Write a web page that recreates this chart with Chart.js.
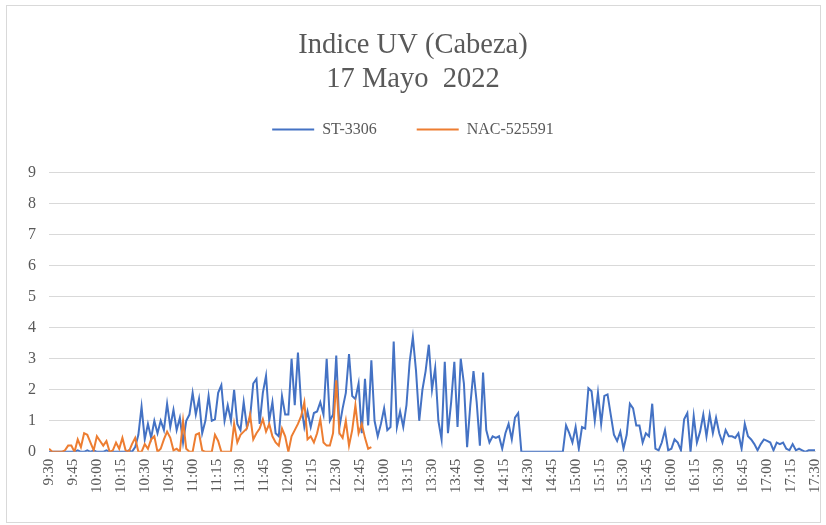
<!DOCTYPE html>
<html>
<head>
<meta charset="utf-8">
<title>Indice UV (Cabeza)</title>
<script src="https://cdn.jsdelivr.net/npm/chart.js"></script>
<style>
  html, body { margin: 0; padding: 0; background: #fff; }
  #wrap { width: 826px; height: 525px; }
</style>
</head>
<body>
<div id="wrap"><canvas id="graficoUV"></canvas></div>
<script>
// Lecturas cada 2 minutos desde las 9:30 (x = minutos desde las 9:30)
const paso = 2;

const etiquetasHora = [
    '9:30', '9:45', '10:00', '10:15', '10:30', '10:45', '11:00', '11:15', '11:30',
    '11:45', '12:00', '12:15', '12:30', '12:45', '13:00', '13:15', '13:30', '13:45',
    '14:00', '14:15', '14:30', '14:45', '15:00', '15:15', '15:30', '15:45', '16:00',
    '16:15', '16:30', '16:45', '17:00', '17:15', '17:30'
];

const nombres = ['ST-3306', 'NAC-525591'];

const st3306 = [
    0, 0, 0, 0, 0, 0, 0, 0, 0, 0.05, 0, 0, 0.05, 0, 0.05, 0, 0, 0, 0.05, 0, 0, 0, 0, 0, 0, 0.05, 0, 0.15,
    0.55, 1.45, 0.4, 0.9, 0.45, 1.0, 0.6, 1.0, 0.7, 1.55, 0.8, 1.35, 0.7, 1.1, 0.3, 1.0, 1.2, 1.9, 1.2, 1.7,
    0.6, 1.0, 1.8, 1.0, 1.05, 1.9, 2.15, 1.0, 1.5, 1.0, 2.0, 0.9, 0.7, 1.6, 0.8, 1.1, 2.2, 2.35, 0.9, 1.9,
    2.45, 1.0, 1.6, 0.6, 0.5, 1.8, 1.2, 1.2, 3.0, 1.5, 3.2, 1.5, 0.8, 1.3, 0.8, 1.25, 1.3, 1.6, 1.2, 3.0,
    1.0, 1.2, 3.1, 0.8, 1.4, 1.9, 3.15, 1.8, 1.7, 2.2, 0.6, 2.35, 0.85, 2.95, 1.0, 0.5, 0.9, 1.4, 0.7, 0.8,
    3.55, 0.8, 1.3, 0.8, 1.5, 2.9, 3.7, 2.6, 1.0, 2.0, 2.6, 3.45, 2.0, 2.7, 1.0, 0.4, 2.9, 0.6, 1.6, 2.9,
    0.8, 3.0, 2.2, 0.15, 1.5, 2.6, 1.6, 0.2, 2.55, 0.7, 0.3, 0.5, 0.45, 0.5, 0.1, 0.6, 0.9, 0.4, 1.1, 1.25,
    0, 0, 0, 0, 0, 0, 0, 0, 0, 0, 0, 0, 0, 0,
    0.85, 0.6, 0.3, 0.8, 0.1, 0.8, 0.75, 2.05, 1.95, 1.0, 1.9, 0.9, 1.8, 1.85, 1.2, 0.55, 0.35, 0.65, 0.1, 0.55,
    1.55, 1.4, 0.85, 0.85, 0.3, 0.6, 0.5, 1.55, 0.1, 0.05, 0.3, 0.7, 0.05, 0.1, 0.4, 0.3, 0.05, 1.05, 1.25, 0,
    1.15, 0.3, 0.65, 1.2, 0.5, 1.2, 0.6, 1.1, 0.6, 0.3, 0.7, 0.5, 0.5, 0.45, 0.6, 0.1, 0.9, 0.5, 0.4, 0.25,
    0.05, 0.25, 0.4, 0.35, 0.3, 0.05, 0.3, 0.25, 0.3, 0.1, 0.05, 0.25, 0.05, 0.1, 0.05, 0, 0.05, 0.05, 0.05
];

const nac525591 = [
    0.1, 0, 0, 0, 0, 0.05, 0.2, 0.2, 0, 0.4, 0.15, 0.6, 0.55, 0.3, 0.05, 0.5, 0.35, 0.2, 0.35, 0,
    0.05, 0.3, 0.1, 0.45, 0.05, 0, 0.25, 0.45, 0, 0, 0.25, 0.1, 0.4, 0.5, 0, 0.1, 0.4, 0.65, 0.45, 0.05,
    0.1, 0, 1.0, 0.1, 0, 0, 0.55, 0.6, 0.05, 0, 0, 0, 0.55, 0.35, 0, 0, 0, 0, 0.9, 0.3,
    0.55, 0.65, 0.75, 1.2, 0.4, 0.6, 0.75, 1.05, 0.65, 0.9, 0.5, 0.3, 0.2, 0.75, 0.5, 0, 0.5, 0.7, 0.9, 1.15,
    1.6, 0.4, 0.5, 0.3, 0.6, 1.05, 0.3, 0.2, 0.2, 0.6, 2.3, 0.6, 0.45, 1.0, 0.2, 0.7, 1.5, 0.6, 0.9, 0.45, 0.1, 0.15
];

const colores = ['#4472C4', '#ED7D31'];
const gris = '#595959';
const fuente = 'Liberation Serif, Times New Roman, serif';

const puntos = (serie) => serie.map((v, i) => ({ x: i * paso, y: v }));

// marco gris alrededor del gráfico
const marco = {
    id: 'marco',
    beforeDraw(chart) {
        const ctx = chart.ctx;
        ctx.save();
        ctx.fillStyle = '#fff';
        ctx.fillRect(0, 0, chart.width, chart.height);
        ctx.strokeStyle = '#d9d9d9';
        ctx.lineWidth = 1;
        ctx.strokeRect(6.5, 5.5, 814, 517);
        ctx.restore();
    }
};

// más aire entre la leyenda y el área de trazado
const espacioLeyenda = {
    id: 'espacioLeyenda',
    beforeInit(chart) {
        const fitOriginal = chart.legend.fit;
        chart.legend.fit = function () {
            fitOriginal.call(this);
            this.height += 25;
        };
    }
};

const ctx = document.getElementById('graficoUV').getContext('2d');
new Chart(ctx, {
    type: 'line',
    data: {
        datasets: [{
            label: nombres[0],
            data: puntos(st3306),
            borderColor: colores[0],
            backgroundColor: colores[0],
            borderWidth: 2,
            pointRadius: 0,
            pointStyle: 'line',
            tension: 0,
            order: 2
        }, {
            label: nombres[1],
            data: puntos(nac525591),
            borderColor: colores[1],
            backgroundColor: colores[1],
            borderWidth: 2,
            pointRadius: 0,
            pointStyle: 'line',
            tension: 0,
            order: 1
        }]
    },
    options: {
        responsive: true,
        maintainAspectRatio: false,
        animation: false,
        layout: { padding: { top: 28, left: 0, right: 0, bottom: 25 } },
        plugins: {
            title: {
                display: true,
                text: ['Indice UV (Cabeza)', '17 Mayo  2022'],
                color: gris,
                font: { family: fuente, size: 28.5, weight: 'normal', lineHeight: 1.2 },
                padding: { top: 0, bottom: -15 }
            },
            legend: {
                display: true,
                labels: {
                    usePointStyle: true,
                    pointStyleWidth: 42,
                    color: gris,
                    font: { family: fuente, size: 16 },
                    padding: 40,
                    sort: (a, b) => a.datasetIndex - b.datasetIndex
                }
            },
            tooltip: { enabled: false }
        },
        scales: {
            x: {
                type: 'linear',
                min: 0,
                max: 480,
                grid: { display: false, drawTicks: false },
                border: { display: true, color: '#d9d9d9' },
                afterFit(scale) {
                    scale.paddingLeft = 0;
                    scale.paddingRight = 11;
                },
                ticks: {
                    stepSize: 15,
                    autoSkip: false,
                    maxRotation: 90,
                    minRotation: 90,
                    padding: 7,
                    color: gris,
                    font: { family: fuente, size: 15 },
                    callback: (value, index) => etiquetasHora[index]
                }
            },
            y: {
                min: 0,
                max: 9,
                grid: { color: '#d9d9d9', drawTicks: false },
                border: { display: false },
                afterFit(scale) {
                    scale.width = 49;
                },
                ticks: {
                    stepSize: 1,
                    padding: 13,
                    color: gris,
                    font: { family: fuente, size: 16 }
                }
            }
        }
    },
    plugins: [marco, espacioLeyenda]
});
</script>
</body>
</html>
